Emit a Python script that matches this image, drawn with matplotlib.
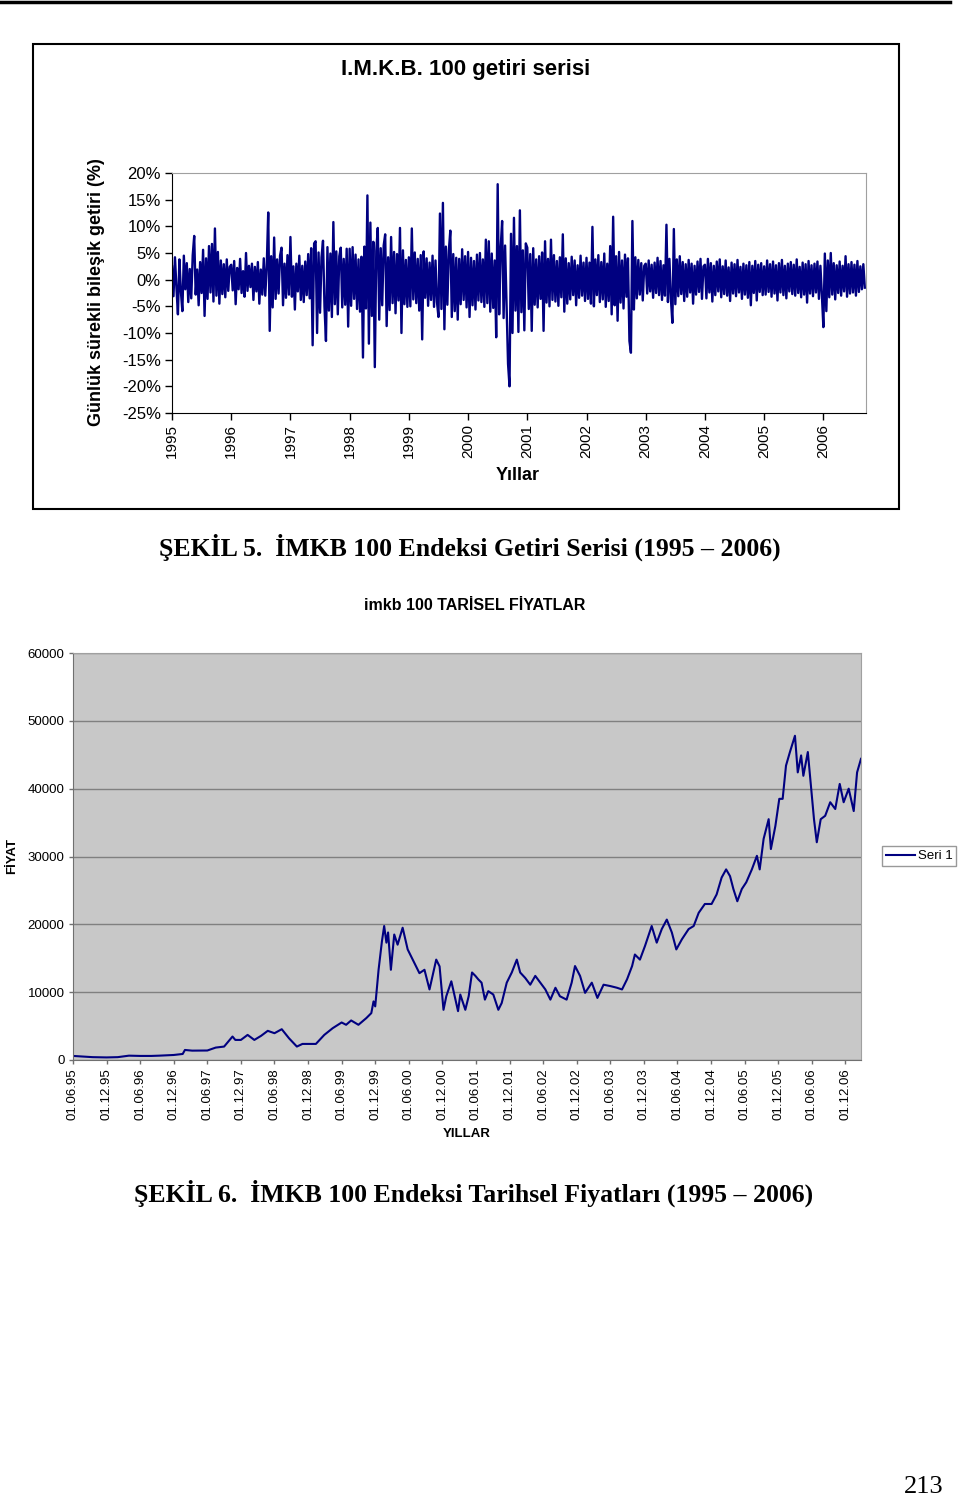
import numpy as np
import matplotlib
matplotlib.use('Agg')
import matplotlib.pyplot as plt
from matplotlib.patches import Rectangle
from matplotlib.lines import Line2D

plt.rcParams['font.family'] = ['Liberation Sans', 'DejaVu Sans']

# daily log returns (%), ~40 readings per year
ret_1995 = [2.5, -3.1, 4.2, -1.5, -6.5, 3.8, -2.2, -5.9, 4.5, -1.8, 3.1, -4.2, 2.0, -3.5, 4.6, 8.2, -2.8, 1.9, -4.8, 3.3,
            -2.5, 5.6, -6.8, 4.0, -3.6, 6.3, -2.4, 6.7, -4.1, 9.6, -3.0, 5.2, -4.5, 3.6, -2.7, 2.9, -3.3, 3.8, -2.1, 2.4]
ret_1996 = [2.8, -2.0, 3.5, -4.6, 2.2, -1.8, 3.9, -2.5, 1.6, -3.2, 5.0, -2.1, 2.6, -1.4, 3.0, -3.8, 2.4, -2.2, 3.3, -4.5,
            1.9, -2.8, 4.0, -3.0, 2.5, 12.6, -9.6, 4.4, -5.2, 7.9, -3.6, 3.8, -2.6, 4.5, 6.0, -4.8, 3.0, -3.4, 4.6, -2.8]
ret_1997 = [8.0, -3.2, 2.5, -5.6, 3.0, -2.2, 4.5, -3.8, 2.6, -4.2, 3.4, -2.9, 4.8, -3.5, 5.9, -12.3, 6.8, 7.2, -10.0, 5.1,
            -6.2, 4.2, 7.3, -5.0, -11.5, 6.1, -5.8, 4.9, -7.0, 10.8, -4.6, 5.3, -6.5, 4.4, 6.0, -5.2, 3.9, -4.7, 5.8, -8.8]
ret_1998 = [5.8, -4.9, 6.1, -3.6, 4.7, -5.5, 3.8, -6.0, 4.3, -14.6, 6.2, -5.4, 15.8, -12.0, 10.7, -6.8, 7.1, -16.4, 5.4, 9.7,
            -7.5, 5.9, -4.8, 6.4, 8.5, -8.7, 4.2, -5.7, 8.0, -4.4, 5.2, -6.3, 4.8, -3.9, 9.7, -10.0, 5.5, -4.6, 3.7, -5.1]
ret_1999 = [4.2, -5.0, 9.6, -3.7, 5.1, -4.4, 3.9, -5.8, 4.6, -11.2, 5.3, -3.4, 4.0, -4.9, 3.2, -3.8, 4.5, -5.1, 3.6, -4.2,
            -7.0, 12.4, -5.5, 14.4, -9.3, 6.2, -4.7, 5.4, 9.2, -7.0, 4.8, -5.9, 4.1, -7.5, 3.9, -4.6, 5.7, -3.8, 4.4, -5.2]
ret_2000 = [5.2, -7.0, 4.1, -4.8, 3.5, -5.6, 4.7, -3.9, 5.0, -4.2, 3.8, -5.1, 7.5, -4.4, 7.2, -6.0, 4.9, -5.3, 3.6, -10.8,
            17.9, -6.5, 5.8, 11.0, -7.2, 6.4, -4.9, -15.8, -20.0, 8.6, -10.0, 11.6, -5.8, 6.3, -9.8, 13.0, -6.1, 5.5, -9.5, 6.8]
ret_2001 = [6.0, -5.5, 4.8, -9.6, 5.9, -4.7, 3.8, -5.2, 4.4, -3.6, 5.1, -9.6, 7.2, -4.3, 3.9, -5.0, 7.5, -3.8, 4.6, -4.1,
            3.5, -4.9, 4.2, -3.3, 8.5, -6.0, 4.0, -4.5, 3.1, -3.7, 4.3, -2.9, 3.6, -4.8, 2.7, -3.4, 4.5, -3.0, 3.2, -4.0]
ret_2002 = [4.1, -3.6, 3.2, -4.5, 9.9, -5.0, 3.8, -2.9, 4.6, -4.2, 3.3, -3.7, 4.9, -5.1, 3.0, -4.0, 6.3, -6.5, 11.8, -4.8,
            4.4, -7.7, 5.2, -4.3, 3.6, -5.4, 4.7, -3.2, 4.0, -11.5, -13.7, 11.0, -5.6, 4.2, -3.5, 3.7, -2.8, 3.1, -3.9, 2.6]
ret_2003 = [3.0, -2.6, 3.6, -2.2, 2.8, -3.4, 3.2, -2.5, 4.1, -2.9, 3.5, -3.8, 2.7, -3.0, 10.3, -4.2, 3.9, -3.5, -8.1, 9.5,
            -4.6, 3.8, -3.1, 4.4, -2.7, 3.3, -4.0, 2.9, -3.2, 3.7, -2.4, 3.0, -4.5, 2.6, -2.8, 3.4, -2.3, 3.9, -3.6, 2.5]
ret_2004 = [2.8, -3.5, 3.9, -2.4, 3.1, -4.1, 2.6, -2.9, 3.4, -2.2, 3.8, -3.3, 2.5, -2.7, 3.6, -3.0, 2.3, -4.0, 3.2, -2.6,
            2.9, -3.1, 3.7, -2.4, 2.4, -3.6, 3.0, -2.8, 2.7, -3.4, 3.3, -4.8, 2.6, -2.5, 3.5, -3.9, 2.8, -2.3, 3.1, -2.9]
ret_2005 = [2.5, -2.8, 3.6, -2.3, 2.9, -3.2, 3.4, -2.6, 2.7, -3.9, 3.1, -2.4, 3.7, -2.9, 2.6, -3.5, 3.0, -2.2, 3.3, -2.7,
            2.8, -3.0, 3.8, -2.5, 2.4, -3.3, 3.2, -2.8, 2.9, -4.3, 3.5, -2.6, 2.7, -3.1, 3.0, -2.4, 3.4, -3.6, 2.6, -2.9]
ret_2006 = [-8.9, 4.9, -5.9, 3.6, -3.3, 5.0, -2.8, 3.1, -3.7, 2.7, -2.5, 3.4, -3.0, 2.6, -2.2, 4.4, -3.2, 2.9, -2.6, 3.3,
            -2.4, 2.8, -3.0, 3.5, -2.3, 2.5, -1.8, 2.9, -1.5]
ret_per_year = 40
year_ticks = list(range(1995, 2007))
ret_yticks = [20, 15, 10, 5, 0, -5, -10, -15, -20, -25]

# index level, months counted from 01.06.95
price_month = [0, 3.5, 6, 8, 10, 12, 14, 15.4, 18, 19.6, 20, 21.3, 24, 25.5, 27, 28.5, 29, 30, 31.2, 32.4,
               33.6, 34.8, 36, 37.3, 38.6, 40, 41, 42, 43.4, 44.9, 46.4, 48, 48.8, 49.7, 51, 52.4, 53.3, 53.7, 54, 54.6,
               55.2, 55.6, 56, 56.3, 56.8, 57.4, 58, 58.9, 59.8, 60.7, 61.9, 62.8, 63.7, 64.9, 65.5, 66.2, 66.7, 67.6, 68.8, 69.2,
               70.1, 70.7, 71.3, 71.9, 72.4, 73.0, 73.6, 74.2, 75.1, 76.0, 76.6, 77.5, 78.4, 79.3, 79.9, 80.8, 81.7, 82.6, 83.5, 84.4,
               85.3, 86.2, 87.0, 88.2, 89.1, 89.7, 90.6, 91.5, 92.7, 93.7, 94.8, 96.0, 97.2, 98.1, 99.0, 99.9, 100.4, 101.3, 102.2, 103.4,
               104.3, 105.2, 106.1, 107.0, 107.8, 108.8, 110.0, 110.9, 111.8, 112.9, 114.1, 115.0, 115.9, 116.7, 117.4, 118.0, 118.7, 119.5, 120.3, 121.3,
               122.2, 122.7, 123.4, 124.3, 124.7, 125.5, 126.2, 126.8, 127.4, 128.1, 129.0, 129.5, 130.1, 130.5, 131.3, 132.0, 132.4, 132.9, 133.6, 134.4,
               135.3, 136.2, 137.0, 137.7, 138.6, 139.5, 140.1, 140.8]
price_value = [600, 420, 380, 420, 640, 600, 600, 640, 740, 890, 1480, 1380, 1400, 1830, 1980, 3460, 2960, 2960, 3700, 2960,
               3560, 4300, 3950, 4540, 3200, 1980, 2370, 2370, 2370, 3700, 4690, 5530, 5190, 5830, 5190, 6170, 6910, 8640, 7900, 13300,
               17500, 19750, 17300, 18800, 13300, 18500, 17000, 19500, 16300, 14800, 12800, 13300, 10400, 14800, 13800, 7400, 9400, 11600, 7200, 9650,
               7400, 9400, 12900, 12400, 11900, 11400, 8900, 10150, 9650, 7400, 8400, 11400, 12900, 14800, 12900, 12100, 11100, 12400, 11400, 10400,
               8900, 10650, 9400, 8900, 11400, 13850, 12400, 9900, 11400, 9150, 11100, 10900, 10650, 10400, 11900, 13850, 15550, 14800, 16800, 19750,
               17300, 19300, 20700, 18800, 16300, 17800, 19300, 19750, 21700, 23000, 23000, 24400, 26900, 28100, 27100, 25200, 23400, 25200, 26200, 28100,
               30100, 28100, 32600, 35500, 31100, 34500, 38500, 38500, 43400, 45400, 47800, 42400, 44900, 41900, 45400, 39000, 35500, 32100, 35500, 36000,
               38000, 37000, 40700, 38000, 40000, 36700, 42400, 44400]
price_ticks = [0, 10000, 20000, 30000, 40000, 50000, 60000]
price_labels = ['01.06.95', '01.12.95', '01.06.96', '01.12.96', '01.06.97', '01.12.97', '01.06.98', '01.12.98',
                '01.06.99', '01.12.99', '01.06.00', '01.12.00', '01.06.01', '01.12.01', '01.06.02', '01.12.02',
                '01.06.03', '01.12.03', '01.06.04', '01.12.04', '01.06.05', '01.12.05', '01.06.06', '01.12.06']

W, H = 960, 1499
def fx(px):
    return px / W
def fy(py):
    return 1 - py / H

navy = '#000080'
fig = plt.figure(figsize=(9.6, 14.99), dpi=100)
fig.add_artist(Line2D([0, fx(950)], [fy(2), fy(2)], color='black', lw=2.5))
fig.add_artist(Rectangle((fx(33), fy(509)), (899 - 33) / W, (509 - 44) / H, fill=False,
                         ec='black', lw=1.5, transform=fig.transFigure))

# --- return series
returns = np.concatenate([ret_1995, ret_1996, ret_1997, ret_1998, ret_1999, ret_2000, ret_2001,
                          ret_2002, ret_2003, ret_2004, ret_2005, ret_2006])
x_ret = 1995 + np.arange(len(returns)) / ret_per_year

ax1 = fig.add_axes([fx(172), fy(413), 694 / W, 240 / H])
ax1.plot(x_ret, returns, color=navy, lw=1.7)
ax1.set_xlim(1995, 2006.72)
ax1.set_ylim(-25, 20)
ax1.set_yticks(ret_yticks)
ax1.set_yticklabels([f'{v}%' for v in ret_yticks], fontsize=12)
ax1.set_xticks(year_ticks)
ax1.set_xticklabels([str(y) for y in year_ticks], rotation=90, fontsize=11)
for s in ['top', 'right']:
    ax1.spines[s].set_color('#a0a0a0')
for s in ['left', 'bottom']:
    ax1.spines[s].set_color('black')
ax1.tick_params(direction='out', length=5, width=1, pad=3)

fig.text(fx(466), fy(70), 'I.M.K.B. 100 getiri serisi', ha='center', va='center', fontsize=16, weight='bold')
fig.text(fx(97), fy(292), 'Günlük sürekli bileşik getiri (%)', ha='center', va='center',
         rotation=90, fontsize=13, weight='bold')
fig.text(fx(518), fy(475), 'Yıllar', ha='center', va='center', fontsize=13, weight='bold')
fig.text(fx(470), fy(547), 'ŞEKİL 5.  İMKB 100 Endeksi Getiri Serisi (1995 – 2006)', ha='center', va='center',
         fontsize=18.5, weight='bold', family='Liberation Serif')

# --- price series
ax2 = fig.add_axes([fx(73), fy(1060), 788 / W, 407 / H])
ax2.set_facecolor('#c8c8c8')
ax2.plot(price_month, price_value, color=navy, lw=1.5, label='Seri 1')
ax2.set_xlim(0, 140.8)
ax2.set_ylim(0, 60000)
ax2.set_yticks(price_ticks)
ax2.set_yticklabels([str(v) for v in price_ticks], fontsize=9.5)
ax2.set_xticks(np.arange(len(price_labels)) * 6)
ax2.set_xticklabels(price_labels, rotation=90, fontsize=9.5)
ax2.grid(axis='y', color='#808080', lw=1)
ax2.set_axisbelow(True)
for s in ['top', 'right']:
    ax2.spines[s].set_color('#a0a0a0')
for s in ['left', 'bottom']:
    ax2.spines[s].set_color('#707070')
ax2.tick_params(direction='out', length=3, width=1, pad=3, color='#707070')
fig.legend(loc='center left', bbox_to_anchor=(fx(882), fy(856)), fontsize=9.5, frameon=True, fancybox=False,
           edgecolor='#808080', borderpad=0.3, handlelength=2.2, handletextpad=0.2, borderaxespad=0)

fig.text(fx(475), fy(606), 'imkb 100 TARİSEL FİYATLAR', ha='center', va='center', fontsize=11.5, weight='bold')
fig.text(fx(12), fy(856), 'FİYAT', ha='center', va='center', rotation=90, fontsize=9.5, weight='bold')
fig.text(fx(467), fy(1134), 'YILLAR', ha='center', va='center', fontsize=9.5, weight='bold')
fig.text(fx(474), fy(1193), 'ŞEKİL 6.  İMKB 100 Endeksi Tarihsel Fiyatları (1995 – 2006)', ha='center', va='center',
         fontsize=18.5, weight='bold', family='Liberation Serif')
fig.text(fx(924), fy(1487), '213', ha='center', va='center', fontsize=19, family='Liberation Serif')

fig.savefig('out.png', dpi=100)
